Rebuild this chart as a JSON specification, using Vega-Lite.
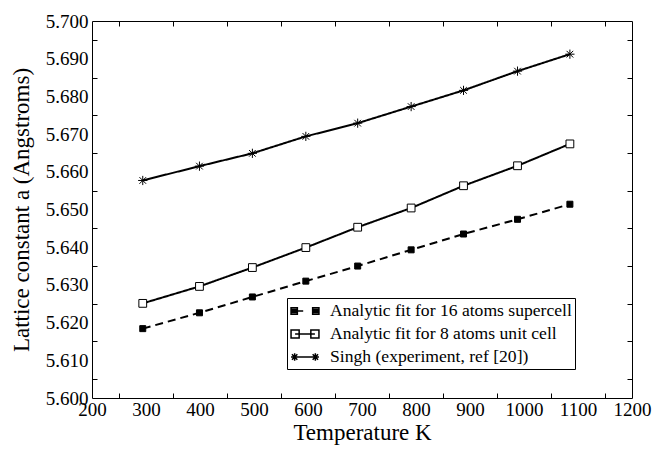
{
  "$schema": "https://vega.github.io/schema/vega-lite/v6.json",
  "width": 540,
  "height": 377,
  "autosize": {"type": "none"},
  "padding": {"left": 92, "top": 21, "right": 22, "bottom": 52},
  "background": "white",
  "config": {
    "font": "Liberation Serif",
    "view": {"stroke": "black", "strokeWidth": 1},
    "axis": {"domain": false, "ticks": false, "tickSize": 0, "grid": true, "gridColor": "black", "gridWidth": 1, "gridOpacity": 1, "labelColor": "black", "titleColor": "black", "labelFont": "Liberation Serif", "titleFont": "Liberation Serif", "labelFontSize": 19, "titleFontSize": 23, "titleFontWeight": "normal", "labelOverlap": false, "labelFlush": false}
  },
  "data": {"values": [
    {"series": "Analytic fit for 16 atoms supercell", "T": 294, "a": 5.6184},
    {"series": "Analytic fit for 16 atoms supercell", "T": 399, "a": 5.6226},
    {"series": "Analytic fit for 16 atoms supercell", "T": 497, "a": 5.6268},
    {"series": "Analytic fit for 16 atoms supercell", "T": 596, "a": 5.6310},
    {"series": "Analytic fit for 16 atoms supercell", "T": 692, "a": 5.6350},
    {"series": "Analytic fit for 16 atoms supercell", "T": 791, "a": 5.6393},
    {"series": "Analytic fit for 16 atoms supercell", "T": 888, "a": 5.6435},
    {"series": "Analytic fit for 16 atoms supercell", "T": 988, "a": 5.6474},
    {"series": "Analytic fit for 16 atoms supercell", "T": 1085, "a": 5.6514},
    {"series": "Analytic fit for 8 atoms unit cell", "T": 294, "a": 5.6251},
    {"series": "Analytic fit for 8 atoms unit cell", "T": 399, "a": 5.6296},
    {"series": "Analytic fit for 8 atoms unit cell", "T": 497, "a": 5.6346},
    {"series": "Analytic fit for 8 atoms unit cell", "T": 596, "a": 5.6399},
    {"series": "Analytic fit for 8 atoms unit cell", "T": 692, "a": 5.6453},
    {"series": "Analytic fit for 8 atoms unit cell", "T": 791, "a": 5.6504},
    {"series": "Analytic fit for 8 atoms unit cell", "T": 888, "a": 5.6563},
    {"series": "Analytic fit for 8 atoms unit cell", "T": 988, "a": 5.6616},
    {"series": "Analytic fit for 8 atoms unit cell", "T": 1085, "a": 5.6674},
    {"series": "Singh (experiment, ref [20])", "T": 294, "a": 5.6577},
    {"series": "Singh (experiment, ref [20])", "T": 399, "a": 5.6615},
    {"series": "Singh (experiment, ref [20])", "T": 497, "a": 5.6649},
    {"series": "Singh (experiment, ref [20])", "T": 596, "a": 5.6694},
    {"series": "Singh (experiment, ref [20])", "T": 692, "a": 5.6729},
    {"series": "Singh (experiment, ref [20])", "T": 791, "a": 5.6773},
    {"series": "Singh (experiment, ref [20])", "T": 888, "a": 5.6816},
    {"series": "Singh (experiment, ref [20])", "T": 988, "a": 5.6867},
    {"series": "Singh (experiment, ref [20])", "T": 1085, "a": 5.6912}
  ]},
  "resolve": {"axis": {"x": "independent", "y": "independent"}, "scale": {"shape": "independent"}, "legend": {"shape": "independent"}},
  "layer": [
    {
      "mark": {"type": "point", "opacity": 0},
      "encoding": {
        "x": {"field": "T", "type": "quantitative", "scale": {"domain": [200, 1200], "nice": false, "zero": false},
          "axis": {"orient": "top", "title": null, "labels": false, "values": [250,350,450,550,650,750,850,950,1050,1150], "gridDash": [5, 367, 5]}},
        "y": {"field": "a", "type": "quantitative", "scale": {"domain": [5.6, 5.7], "nice": false, "zero": false},
          "axis": {"orient": "right", "title": null, "labels": false, "values": [5.605,5.615,5.625,5.635,5.645,5.655,5.665,5.675,5.685,5.695], "gridDash": [5, 530, 5]}}
      }
    },
    {
      "mark": {"type": "line", "color": "black", "strokeWidth": 2},
      "encoding": {
        "x": {"field": "T", "type": "quantitative",
          "axis": {"orient": "bottom", "title": "Temperature  K", "values": [200,300,400,500,600,700,800,900,1000,1100,1200],
            "gridDash": [10, 357, 10], "format": "d", "labelPadding": 2, "titlePadding": 2}},
        "y": {"field": "a", "type": "quantitative",
          "axis": {"orient": "left", "title": "Lattice constant a (Angstroms)", "values": [5.6,5.61,5.62,5.63,5.64,5.65,5.66,5.67,5.68,5.69,5.7],
            "gridDash": [10, 520, 10], "format": ".3f", "labelPadding": 4, "titlePadding": 12}},
        "detail": {"field": "series"},
        "strokeDash": {"field": "series", "type": "nominal", "legend": null,
          "scale": {"domain": ["Analytic fit for 16 atoms supercell", "Analytic fit for 8 atoms unit cell", "Singh (experiment, ref [20])"], "range": [[8, 5], [1, 0], [1, 0]]}}
      }
    },
    {
      "mark": {"type": "point", "stroke": "black", "strokeWidth": 1, "opacity": 1},
      "encoding": {
        "x": {"field": "T", "type": "quantitative", "axis": null},
        "y": {"field": "a", "type": "quantitative", "axis": null},
        "shape": {"field": "series", "type": "nominal", "legend": null,
          "scale": {"domain": ["Analytic fit for 16 atoms supercell", "Analytic fit for 8 atoms unit cell", "Singh (experiment, ref [20])"],
            "range": ["square", "square", "M-1,0H1M0,-1V1M-0.72,-0.72L0.72,0.72M-0.72,0.72L0.72,-0.72"]}},
        "fill": {"field": "series", "type": "nominal", "legend": null,
          "scale": {"domain": ["Analytic fit for 16 atoms supercell", "Analytic fit for 8 atoms unit cell", "Singh (experiment, ref [20])"], "range": ["black", "white", "white"]}},
        "size": {"field": "series", "type": "nominal", "legend": null,
          "scale": {"domain": ["Analytic fit for 16 atoms supercell", "Analytic fit for 8 atoms unit cell", "Singh (experiment, ref [20])"], "range": [36, 85, 130]}}
      }
    },
    {
      "mark": {"type": "point", "opacity": 0, "stroke": "black"},
      "encoding": {
        "x": {"field": "T", "type": "quantitative", "axis": null},
        "y": {"field": "a", "type": "quantitative", "axis": null},
        "shape": {"field": "series", "type": "nominal",
          "scale": {"domain": ["Analytic fit for 16 atoms supercell", "Analytic fit for 8 atoms unit cell", "Singh (experiment, ref [20])"],
            "range": [
              "M-1.55,-0.35H-0.85V0.35H-1.55Z M-1.55,-0.18H-0.85 M-1.55,0H-0.85 M-1.55,0.18H-0.85 M-0.85,0H-0.2 M0.85,-0.35H1.55V0.35H0.85Z M0.85,-0.18H1.55 M0.85,0H1.55 M0.85,0.18H1.55",
              "M-1.55,-0.45H-0.65V0.45H-1.55Z M-1.1,0H1.1 M0.65,-0.45H1.55V0.45H0.65Z",
              "M-1.55,0H1.55 M-1.15,-0.42V0.42 M-1.45,-0.3L-0.85,0.3 M-1.45,0.3L-0.85,-0.3 M1.15,-0.42V0.42 M0.85,-0.3L1.45,0.3 M0.85,0.3L1.45,-0.3"
            ]},
          "legend": {
            "title": null, "orient": "none", "legendX": 195, "legendY": 277,
            "padding": 3, "strokeColor": "black", "fillColor": "white",
            "symbolSize": 324, "symbolOpacity": 1, "symbolStrokeColor": "black", "symbolStrokeWidth": 1.5, "symbolFillColor": "white",
            "symbolOffset": 5, "labelOffset": 15, "rowPadding": 4,
            "labelFont": "Liberation Serif", "labelFontSize": 17.6, "labelColor": "black", "labelLimit": 400
          }
        }
      }
    }
  ]
}
